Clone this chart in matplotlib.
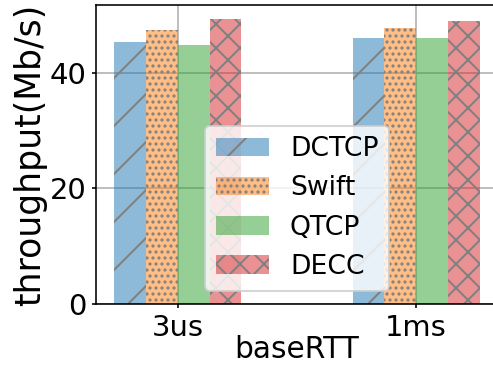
import numpy as np
import matplotlib
matplotlib.use("Agg")
import matplotlib.pyplot as plt
from matplotlib.colors import to_rgba

groups = ["3us", "1ms"]
schemes = ["DCTCP", "Swift", "QTCP", "DECC"]
dctcp = [45.4, 46.1]
swift = [47.4, 47.8]
qtcp = [44.9, 46.1]
decc = [49.3, 49.0]

values = [dctcp, swift, qtcp, decc]
colors = ["tab:blue", "tab:orange", "tab:green", "tab:red"]
hatches = ["/", "....", "", "xx"]

DPI = 144
fig = plt.figure(figsize=(493 / DPI, 366 / DPI), dpi=DPI)
ax = fig.add_axes([96 / 493, 62 / 366, 402 / 493, 299 / 366])

x = np.array([0, 1.5])
width = 0.2
offsets = [-1.5, -0.5, 0.5, 1.5]

for vals, name, c, h, off in zip(values, schemes, colors, hatches, offsets):
    ax.bar(x + off * width, vals, width, label=name,
           facecolor=to_rgba(c, 0.5), edgecolor="gray", linewidth=0, hatch=h)

ax.set_xticks(x)
ax.set_xticklabels(groups)
ax.set_yticks([0, 20, 40])
ax.tick_params(labelsize=14.5, length=1.8, pad=3)
ax.set_xlabel("baseRTT", fontsize=14.8, labelpad=-3.5)
ax.set_ylabel("throughput(Mb/s)", fontsize=17.3, labelpad=1)
ax.grid(True)
ax.set_axisbelow(True)
ax.legend(loc="lower center", fontsize=13.3)

fig.savefig("out.png", dpi=DPI)
